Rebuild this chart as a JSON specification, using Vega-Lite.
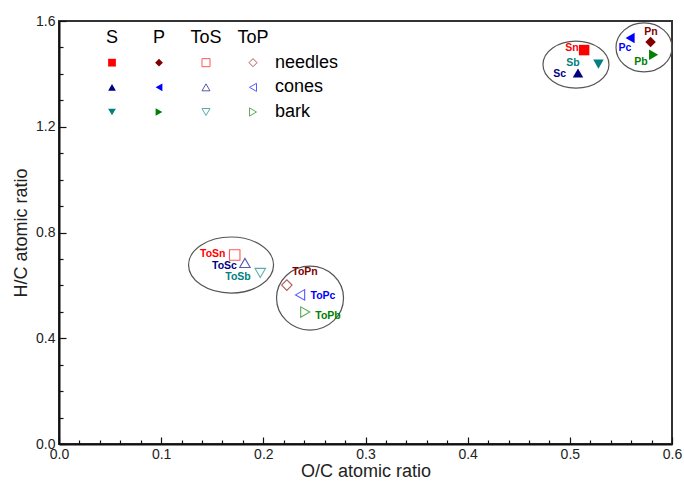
{
  "$schema": "https://vega.github.io/schema/vega-lite/v6.json",
  "width": 613,
  "height": 423,
  "autosize": {"type": "none"},
  "padding": {"left": 59, "top": 21, "right": 12, "bottom": 38},
  "background": "white",
  "config": {
    "font": "Liberation Sans",
    "view": {"stroke": "#333", "strokeWidth": 2},
    "axis": {"grid": false, "domainColor": "#111", "domainWidth": 2, "tickColor": "#111", "tickWidth": 1.2, "labelColor": "#222", "titleColor": "#222", "labelFontSize": 14, "titleFontSize": 18, "titleFontWeight": "normal"}
  },
  "datasets": {
    "points": [
      {"name": "Sn", "series": "S", "kind": "Sn", "oc": 0.514, "hc": 1.490, "lx": 0.502, "ly": 1.498},
      {"name": "Sc", "series": "S", "kind": "Sc", "oc": 0.508, "hc": 1.403, "lx": 0.490, "ly": 1.400},
      {"name": "Sb", "series": "S", "kind": "Sb", "oc": 0.528, "hc": 1.437, "lx": 0.503, "ly": 1.441},
      {"name": "Pn", "series": "P", "kind": "Pn", "oc": 0.579, "hc": 1.521, "lx": 0.5795, "ly": 1.558},
      {"name": "Pc", "series": "P", "kind": "Pc", "oc": 0.559, "hc": 1.536, "lx": 0.554, "ly": 1.498},
      {"name": "Pb", "series": "P", "kind": "Pb", "oc": 0.582, "hc": 1.472, "lx": 0.5697, "ly": 1.445},
      {"name": "ToSn", "series": "ToS", "kind": "Sn", "oc": 0.172, "hc": 0.715, "lx": 0.1505, "ly": 0.719},
      {"name": "ToSc", "series": "ToS", "kind": "Sc", "oc": 0.182, "hc": 0.685, "lx": 0.1620, "ly": 0.673},
      {"name": "ToSb", "series": "ToS", "kind": "Sb", "oc": 0.197, "hc": 0.647, "lx": 0.1752, "ly": 0.630},
      {"name": "ToPn", "series": "ToP", "kind": "Pn", "oc": 0.223, "hc": 0.601, "lx": 0.2408, "ly": 0.651},
      {"name": "ToPc", "series": "ToP", "kind": "Pc", "oc": 0.236, "hc": 0.564, "lx": 0.2584, "ly": 0.560},
      {"name": "ToPb", "series": "ToP", "kind": "Pb", "oc": 0.241, "hc": 0.499, "lx": 0.2633, "ly": 0.484}
    ],
    "clusters": [
      {"cluster": "S", "oc": 0.506, "hc": 1.435},
      {"cluster": "P", "oc": 0.5726, "hc": 1.500},
      {"cluster": "ToS", "oc": 0.1684, "hc": 0.677},
      {"cluster": "ToP", "oc": 0.2457, "hc": 0.552}
    ],
    "legendMarks": [
      {"series": "S", "part": "needles", "kind": "Sn"},
      {"series": "S", "part": "cones", "kind": "Sc"},
      {"series": "S", "part": "bark", "kind": "Sb"},
      {"series": "P", "part": "needles", "kind": "Pn"},
      {"series": "P", "part": "cones", "kind": "Pc"},
      {"series": "P", "part": "bark", "kind": "Pb"},
      {"series": "ToS", "part": "needles", "kind": "Sn"},
      {"series": "ToS", "part": "cones", "kind": "Sc"},
      {"series": "ToS", "part": "bark", "kind": "Sb"},
      {"series": "ToP", "part": "needles", "kind": "Pn"},
      {"series": "ToP", "part": "cones", "kind": "Pc"},
      {"series": "ToP", "part": "bark", "kind": "Pb"}
    ],
    "legendHead": [
      {"series": "S", "part": "head"},
      {"series": "P", "part": "head"},
      {"series": "ToS", "part": "head"},
      {"series": "ToP", "part": "head"}
    ],
    "legendRows": [
      {"series": "ToP", "part": "needles"},
      {"series": "ToP", "part": "cones"},
      {"series": "ToP", "part": "bark"}
    ]
  },
  "layer": [
    {
      "layer": [
        {
          "layer": [
            {
              "data": {"name": "clusters"},
              "transform": [{"filter": "datum.cluster === 'S'"}],
              "mark": {"type": "point", "shape": "M -1 0 A 1 0.712 0 1 0 1 0 A 1 0.712 0 1 0 -1 0 Z", "size": 4356, "filled": false, "color": "#555", "strokeWidth": 1.2, "opacity": 1},
              "encoding": {
                "x": {"field": "oc", "type": "quantitative", "title": "O/C atomic ratio",
                  "scale": {"domain": [0, 0.6], "nice": false, "zero": false},
                  "axis": {"orient": "bottom", "values": [0, 0.1, 0.2, 0.3, 0.4, 0.5, 0.6], "format": ".1f", "tickSize": -7, "labelPadding": 10, "labelFlush": false, "labelOverlap": false, "titlePadding": 1}},
                "y": {"field": "hc", "type": "quantitative", "title": "H/C atomic ratio",
                  "scale": {"domain": [0, 1.6], "nice": false, "zero": false},
                  "axis": {"orient": "left", "values": [0, 0.4, 0.8, 1.2, 1.6], "format": ".1f", "tickSize": -7, "labelPadding": 11, "labelFlush": false, "labelOverlap": false, "titlePadding": 5}}
              }
            },
            {
              "data": {"name": "clusters"},
              "transform": [{"filter": "datum.cluster === 'P'"}],
              "mark": {"type": "point", "shape": "M -1 0 A 1 0.875 0 1 0 1 0 A 1 0.875 0 1 0 -1 0 Z", "size": 3136, "filled": false, "color": "#555", "strokeWidth": 1.2, "opacity": 1},
              "encoding": {
                "x": {"field": "oc", "type": "quantitative", "title": "O/C atomic ratio"},
                "y": {"field": "hc", "type": "quantitative", "title": "H/C atomic ratio"}
              }
            },
            {
              "data": {"name": "clusters"},
              "transform": [{"filter": "datum.cluster === 'ToS'"}],
              "mark": {"type": "point", "shape": "M -1 0 A 1 0.659 0 1 0 1 0 A 1 0.659 0 1 0 -1 0 Z", "size": 7225, "filled": false, "color": "#555", "strokeWidth": 1.2, "opacity": 1},
              "encoding": {
                "x": {"field": "oc", "type": "quantitative", "title": "O/C atomic ratio"},
                "y": {"field": "hc", "type": "quantitative", "title": "H/C atomic ratio"}
              }
            },
            {
              "data": {"name": "clusters"},
              "transform": [{"filter": "datum.cluster === 'ToP'"}],
              "mark": {"type": "point", "shape": "M -1 0 A 1 0.955 0 1 0 1 0 A 1 0.955 0 1 0 -1 0 Z", "size": 4489, "filled": false, "color": "#555", "strokeWidth": 1.2, "opacity": 1},
              "encoding": {
                "x": {"field": "oc", "type": "quantitative", "title": "O/C atomic ratio"},
                "y": {"field": "hc", "type": "quantitative", "title": "H/C atomic ratio"}
              }
            },
            {
              "data": {"name": "points"},
              "transform": [{"filter": {"field": "series", "oneOf": ["S", "P"]}}],
              "mark": {"type": "point", "filled": true, "size": 110, "opacity": 1},
              "encoding": {
                "x": {"field": "oc", "type": "quantitative", "title": "O/C atomic ratio"},
                "y": {"field": "hc", "type": "quantitative", "title": "H/C atomic ratio"},
                "shape": {"field": "kind", "type": "nominal", "legend": null, "scale": {"domain": ["Sn", "Sc", "Sb", "Pn", "Pc", "Pb"], "range": ["square", "triangle-up", "triangle-down", "diamond", "triangle-left", "triangle-right"]}},
                "color": {"field": "kind", "type": "nominal", "legend": null, "scale": {"domain": ["Sn", "Sc", "Sb", "Pn", "Pc", "Pb"], "range": ["#ff0000", "#000080", "#008080", "#800000", "#0000ff", "#008000"]}}
              }
            },
            {
              "data": {"name": "points"},
              "transform": [{"filter": {"field": "series", "oneOf": ["ToS", "ToP"]}}],
              "mark": {"type": "point", "filled": false, "size": 110, "opacity": 0.65, "strokeWidth": 1.1},
              "encoding": {
                "x": {"field": "oc", "type": "quantitative", "title": "O/C atomic ratio"},
                "y": {"field": "hc", "type": "quantitative", "title": "H/C atomic ratio"},
                "shape": {"field": "kind", "type": "nominal", "legend": null},
                "color": {"field": "kind", "type": "nominal", "legend": null}
              }
            },
            {
              "data": {"name": "points"},
              "mark": {"type": "text", "fontSize": 10.5, "fontWeight": "bold", "align": "center", "baseline": "middle"},
              "encoding": {
                "x": {"field": "lx", "type": "quantitative", "title": "O/C atomic ratio"},
                "y": {"field": "ly", "type": "quantitative", "title": "H/C atomic ratio"},
                "text": {"field": "name"},
                "color": {"field": "kind", "type": "nominal", "legend": null}
              }
            }
          ]
        },
        {
          "data": {"name": "clusters"},
          "mark": {"type": "point", "opacity": 0},
          "encoding": {
            "x": {"field": "oc", "type": "quantitative", "title": null,
              "axis": {"orient": "bottom", "values": [0.02,0.04,0.06,0.08,0.12,0.14,0.16,0.18,0.22,0.24,0.26,0.28,0.32,0.34,0.36,0.38,0.42,0.44,0.46,0.48,0.52,0.54,0.56,0.58], "labels": false, "domain": false, "tickSize": -4, "title": null}},
            "y": {"field": "hc", "type": "quantitative", "title": null,
              "axis": {"orient": "left", "values": [0.1,0.2,0.3,0.5,0.6,0.7,0.9,1.0,1.1,1.3,1.4,1.5], "labels": false, "domain": false, "tickSize": -4, "title": null}}
          }
        }
      ],
      "resolve": {"axis": {"x": "independent", "y": "independent"}}
    },
    {
      "layer": [
        {
          "data": {"name": "legendMarks"},
          "transform": [{"filter": {"field": "series", "oneOf": ["S", "P"]}}],
          "mark": {"type": "point", "filled": true, "size": 60, "opacity": 1},
          "encoding": {
            "x": {"field": "series", "type": "nominal", "axis": null, "scale": {"type": "point", "domain": ["S", "P", "ToS", "ToP"], "range": [53, 194], "padding": 0}},
            "y": {"field": "part", "type": "nominal", "axis": null, "scale": {"type": "point", "domain": ["head", "needles", "cones", "bark"], "range": [17, 91], "padding": 0}},
            "shape": {"field": "kind", "type": "nominal", "legend": null},
            "color": {"field": "kind", "type": "nominal", "legend": null}
          }
        },
        {
          "data": {"name": "legendMarks"},
          "transform": [{"filter": {"field": "series", "oneOf": ["ToS", "ToP"]}}],
          "mark": {"type": "point", "filled": false, "size": 65, "opacity": 0.65, "strokeWidth": 1},
          "encoding": {
            "x": {"field": "series", "type": "nominal", "axis": null},
            "y": {"field": "part", "type": "nominal", "axis": null},
            "shape": {"field": "kind", "type": "nominal", "legend": null},
            "color": {"field": "kind", "type": "nominal", "legend": null}
          }
        },
        {
          "data": {"name": "legendHead"},
          "mark": {"type": "text", "fontSize": 18, "align": "center", "baseline": "middle", "color": "#000"},
          "encoding": {
            "x": {"field": "series", "type": "nominal", "axis": null},
            "y": {"field": "part", "type": "nominal", "axis": null},
            "text": {"field": "series"}
          }
        },
        {
          "data": {"name": "legendRows"},
          "mark": {"type": "text", "fontSize": 18, "align": "left", "baseline": "middle", "dx": 22, "color": "#000"},
          "encoding": {
            "x": {"field": "series", "type": "nominal", "axis": null},
            "y": {"field": "part", "type": "nominal", "axis": null},
            "text": {"field": "part"}
          }
        }
      ]
    }
  ],
  "resolve": {"scale": {"x": "independent", "y": "independent"}}
}
